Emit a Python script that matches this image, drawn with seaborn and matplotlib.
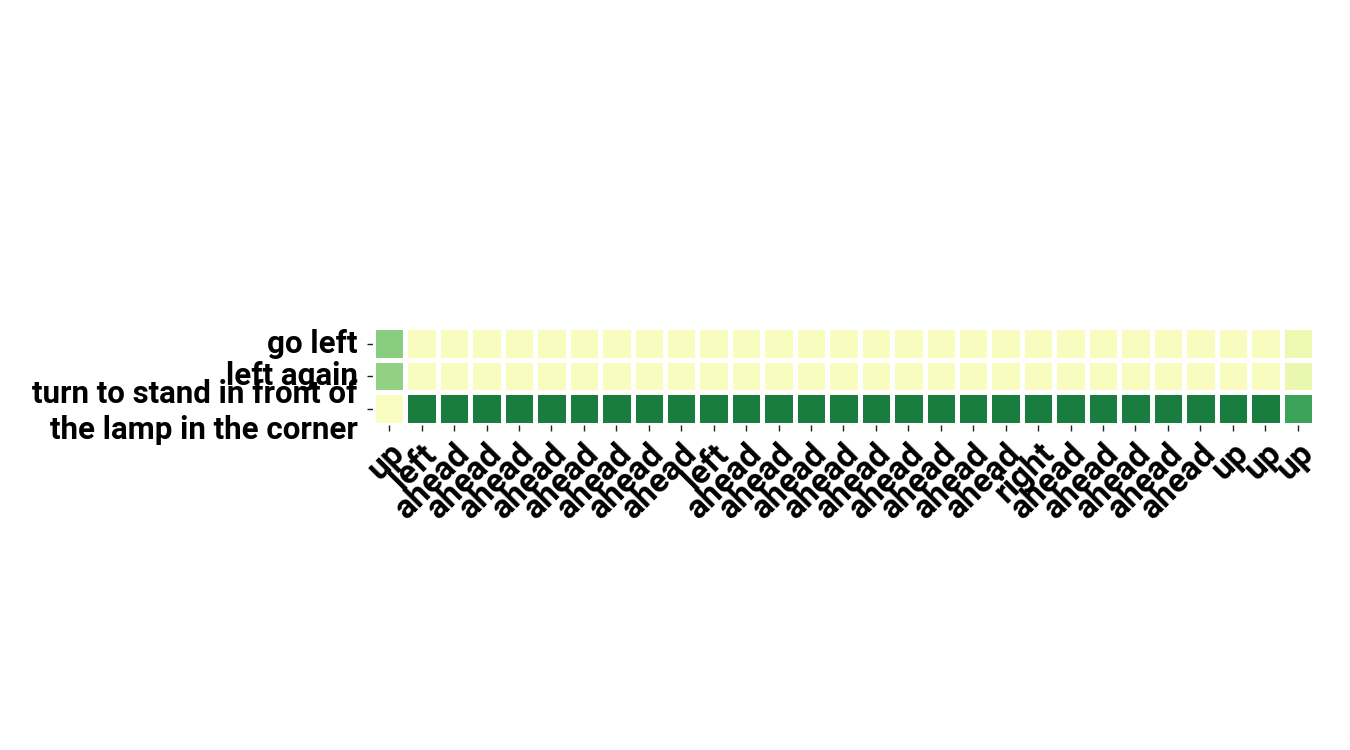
import matplotlib
matplotlib.use("Agg")
import matplotlib.pyplot as plt
import matplotlib.transforms as mtransforms
import seaborn as sns
import numpy as np
import pandas as pd

x_labels = ["up", "left", "ahead", "ahead", "ahead", "ahead", "ahead", "ahead", "ahead", "ahead",
            "left", "ahead", "ahead", "ahead", "ahead", "ahead", "ahead", "ahead", "ahead", "ahead",
            "right", "ahead", "ahead", "ahead", "ahead", "ahead", "up", "up", "up"]
y_labels = ["go left", "left again", "turn to stand in front of\nthe lamp in the corner"]

row_go_left = [0.46] + [0.11] * 27 + [0.17]
row_left_again = [0.44] + [0.11] * 27 + [0.18]
row_turn = [0.10] + [0.78] * 27 + [0.65]

data = pd.DataFrame([row_go_left, row_left_again, row_turn], index=y_labels, columns=range(len(x_labels)))

sns.set_style("ticks")
plt.rcParams['font.family'] = ['Roboto', 'DejaVu Sans']

fig = plt.figure(figsize=(13.5, 7.5), dpi=100)
ax = fig.add_axes([0.2763, 0.433, 0.697, 0.131])
sns.heatmap(data, ax=ax, cmap="YlGn", vmin=0, vmax=1, cbar=False, square=True,
            linewidths=3.5, linecolor="white", xticklabels=x_labels, yticklabels=y_labels)
ax.set_xticklabels(x_labels, rotation=45, ha="right",
                   fontsize=24, fontweight="bold", color="black")
ax.set_yticklabels(y_labels, rotation=0, fontsize=22.5, fontweight="bold", color="black")
ax.tick_params(axis="both", length=4, width=1, color="#222222")
ax.tick_params(axis="y", pad=7)
ax.tick_params(axis="x", pad=5)
offset = mtransforms.ScaledTranslation(22 / 100, 0, fig.dpi_scale_trans)
for lab in ax.get_xticklabels():
    lab.set_transform(lab.get_transform() + offset)
ylabs = ax.get_yticklabels()
down = mtransforms.ScaledTranslation(0, -3 / 100, fig.dpi_scale_trans)
ylabs[2].set_transform(ylabs[2].get_transform() + down)
ylabs[2].set_linespacing(1.25)
for s in ax.spines.values():
    s.set_visible(False)
fig.savefig("out.png", dpi=100)
